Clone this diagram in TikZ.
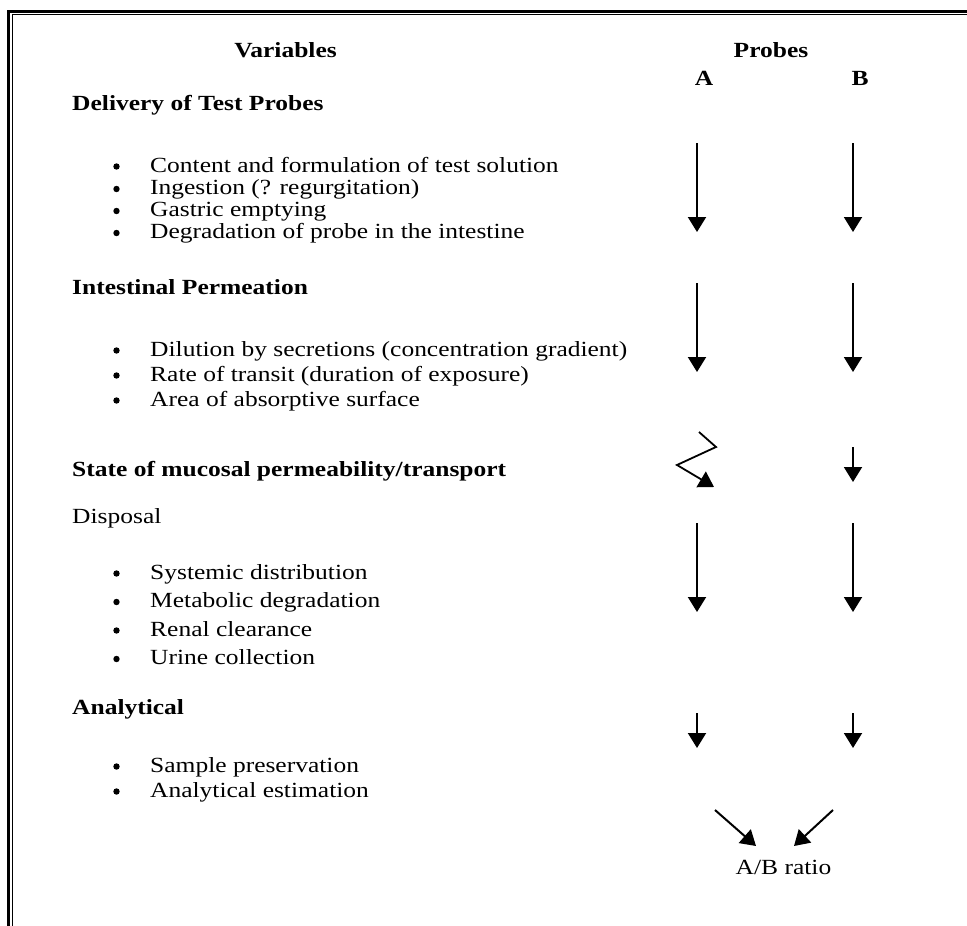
\documentclass[tikz,border=0pt]{standalone}
\usepackage{fontspec}
\setmainfont{Liberation Serif}[FakeStretch=1.18]
\usetikzlibrary{arrows.meta}

\tikzset{
  txt/.style={inner sep=0pt, font=\fontsize{21.6}{26}\selectfont},
  headtxt/.style={txt, font=\fontsize{21.6}{26}\selectfont\bfseries},
  itemtxt/.style={txt, anchor=base west},
  dot/.style={circle, fill, inner sep=0pt, minimum size=6.4pt},
  probe/.style={line width=2pt, -{Triangle[width=18pt,length=15pt]}},
}

\begin{document}
\begin{tikzpicture}[x=1pt,y=-1pt]
\useasboundingbox (0,0) rectangle (967,926);
% double frame, left and top only
\draw[line width=2.7pt] (8.7,926) -- (8.7,11.3) -- (967,11.3);
\draw[line width=1.3pt] (12.7,926) -- (12.7,14.8) -- (967,14.8);

% column headings
\node[headtxt,anchor=base] (vars) at (285.5,57) {Variables};
\node[headtxt,anchor=base] (probes) at (771,57) {Probes};
\node[headtxt,anchor=base] (pa) at (704,85) {A};
\node[headtxt,anchor=base] (pb) at (860,85) {B};

% section headings
\foreach \y/\t [count=\i] in {110/{Delivery of Test Probes},
                              294/{Intestinal Permeation},
                              476/{State of mucosal permeability/transport},
                              714/{Analytical}}
  \node[headtxt,anchor=base west] (sec\i) at (72,\y) {\t};
\node[itemtxt] (disp) at (72,523) {Disposal};

% bulleted items
\foreach \y/\t [count=\i] in {172/{Content and formulation of test solution},
                              194.5/{Ingestion (? regurgitation)},
                              216.5/{Gastric emptying},
                              238.5/{Degradation of probe in the intestine},
                              356/{Dilution by secretions (concentration gradient)},
                              381/{Rate of transit (duration of exposure)},
                              406/{Area of absorptive surface},
                              579/{Systemic distribution},
                              607.5/{Metabolic degradation},
                              636/{Renal clearance},
                              664.5/{Urine collection},
                              772/{Sample preservation},
                              797/{Analytical estimation}}
{
  \node[dot] (bul\i) at (116.5,\y-5.5) {};
  \node[itemtxt] (item\i) at (150,\y) {\t};
}

% probe columns
\foreach \x [count=\c] in {697,853}
{
  \foreach \ys/\ye [count=\r] in {143/232, 283/372, 523/612, 713/748}
  {
    \coordinate (s\c\r) at (\x,\ys);
    \coordinate (e\c\r) at (\x,\ye);
    \draw[probe] (s\c\r) -- (e\c\r);
  }
}
\coordinate (bs) at (853,447);
\coordinate (be) at (853,482);
\draw[probe] (bs) -- (be);

% zigzag for probe A
\coordinate (z0) at (699,432);
\coordinate (z1) at (716,447);
\coordinate (z2) at (677,465);
\coordinate (z3) at (714,487);
\draw[probe,line width=1.8pt] (z0) -- (z1) -- (z2) -- (z3);

% ratio
\node[txt,anchor=base] (ratio) at (783.5,874) {A/B ratio};
\coordinate (ra) at (715,810);
\coordinate (rb) at (833,810);
\coordinate (ta) at (756,846);
\coordinate (tb) at (794,846);
\draw[probe] (ra) -- (ta);
\draw[probe] (rb) -- (tb);
\end{tikzpicture}
\end{document}
